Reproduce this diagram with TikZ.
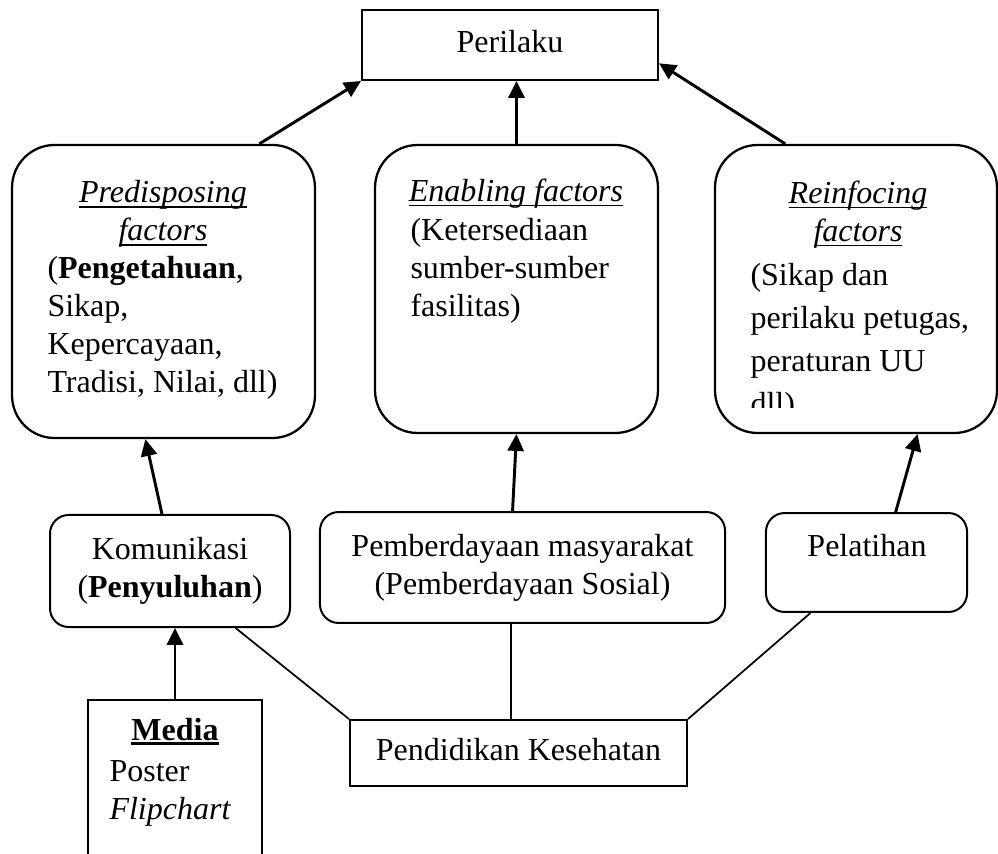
\documentclass[tikz,border=0pt]{standalone}
\usepackage{fontspec}
\setmainfont{Liberation Serif}
\usetikzlibrary{arrows.meta}

% underline as in the source document: #1 thickness, #2 text
\newsavebox{\ulbox}
\newcommand{\undl}[2][0.65pt]{\sbox{\ulbox}{#2}\rlap{\rule[-2pt]{\wd\ulbox}{#1}}\usebox{\ulbox}}

\tikzset{
  factorbox/.style={draw, line width=0.85pt, rounded corners=16pt, inner sep=0pt, minimum height=108pt},
  methodbox/.style={draw, line width=0.75pt, rounded corners=7pt, inner sep=0pt, align=center},
  plainbox/.style={draw, line width=0.75pt, inner sep=0pt},
  txt/.style={inner sep=0pt},
  arr/.style={-{Triangle[length=6.3pt,width=6pt]}, line width=1.1pt},
  link/.style={line width=0.65pt}
}

\begin{document}
\begin{tikzpicture}[x=0.375pt, y=-0.375pt, font=\fontsize{12}{14.25}\selectfont]
        \useasboundingbox (0,0) rectangle (998,854);
        \clip (0,0) rectangle (998,854);

        % ==========================================
        % Top: behaviour
        % ==========================================
        \node[plainbox, minimum width=111pt, minimum height=26.25pt, text depth=3pt] (per) at (510,45) {Perilaku};

        % ==========================================
        % Factors
        % ==========================================
        \node[factorbox, minimum width=113.6pt, minimum height=109.9pt] (pre) at (163.5,291.5) {};
        \node[factorbox, minimum width=106.1pt] (ena) at (516.5,289) {};
        \node[factorbox, minimum width=105.75pt] (rei) at (856,289) {};

        \node[txt, anchor=north, align=center] (pretitle) at (163,180) {\undl{\textit{Predisposing}}\\\undl{\textit{factors}}};
        \node[txt, anchor=north west, align=left] (prebody) at (47,256) {(\textbf{Pengetahuan},\\Sikap,\\Kepercayaan,\\Tradisi, Nilai, dll)};

        \node[txt, anchor=north] (enatitle) at (516,178) {\undl{\textit{Enabling factors}}};
        \node[txt, anchor=north west, align=left] (enabody) at (410,218) {(Ketersediaan\\sumber-sumber\\fasilitas)};

        \node[txt, anchor=north, align=center] (reititle) at (858,180) {\undl{\textit{Reinfocing}}\\\undl{\textit{factors}}};
        \begin{scope}
          \clip (700,140) rectangle (998,408);
          \node[txt, anchor=north west, align=left, font=\fontsize{12}{16.1}\selectfont] (reibody) at (750,263) {(Sikap dan\\perilaku petugas,\\peraturan UU\\dll)};
        \end{scope}

        % ==========================================
        % Methods
        % ==========================================
        \node[methodbox, minimum width=90pt, minimum height=42pt] (kom) at (170,571) {Komunikasi\\(\textbf{Penyuluhan})};
        \node[methodbox, minimum width=151.9pt, minimum height=41.6pt] (pem) at (522.5,567.5) {Pemberdayaan masyarakat\\(Pemberdayaan Sosial)};
        \node[methodbox, minimum width=75.4pt, minimum height=37.1pt] (pel) at (866.5,562.5) {};
        \node[txt, anchor=base] (peltext) at (867,557) {Pelatihan};

        % ==========================================
        % Bottom: health education and media
        % ==========================================
        \node[plainbox, minimum width=126.4pt, minimum height=24.75pt, text depth=3pt] (pen) at (518.5,753) {Pendidikan Kesehatan};
        \node[plainbox, minimum width=65.25pt, minimum height=67.5pt] (med) at (175,790) {};
        \node[txt, anchor=base] (medtitle) at (175,740) {\undl[1.3pt]{\textbf{Media}}};
        \node[txt, anchor=north west, align=left] (medbody) at (109,760) {Poster\\\textit{Flipchart}};

        % ==========================================
        % Arrows
        % ==========================================
        \draw[arr] (pre.57.5) -- (per.south west);
        \draw[arr] (ena.north) -- (ena.north |- per.south);
        \draw[arr] (rei.116.6) -- (per.-7.3);
        \draw[arr] (kom.98) -- (pre.-97);
        \draw[arr] (pem.100) -- (ena.south);
        \draw[arr] (pel.60) -- (rei.-67);
        \draw[arr] (med.north) -- (med.north |- kom.south);

        % lines into Pendidikan Kesehatan
        \draw[link] (kom.-41.6) -- (pen.north west);
        \draw[link] (pen.103) -- (pen.103 |- pem.south);
        \draw[link] (pel.-138) -- (pen.north east);

\end{tikzpicture}
\end{document}
